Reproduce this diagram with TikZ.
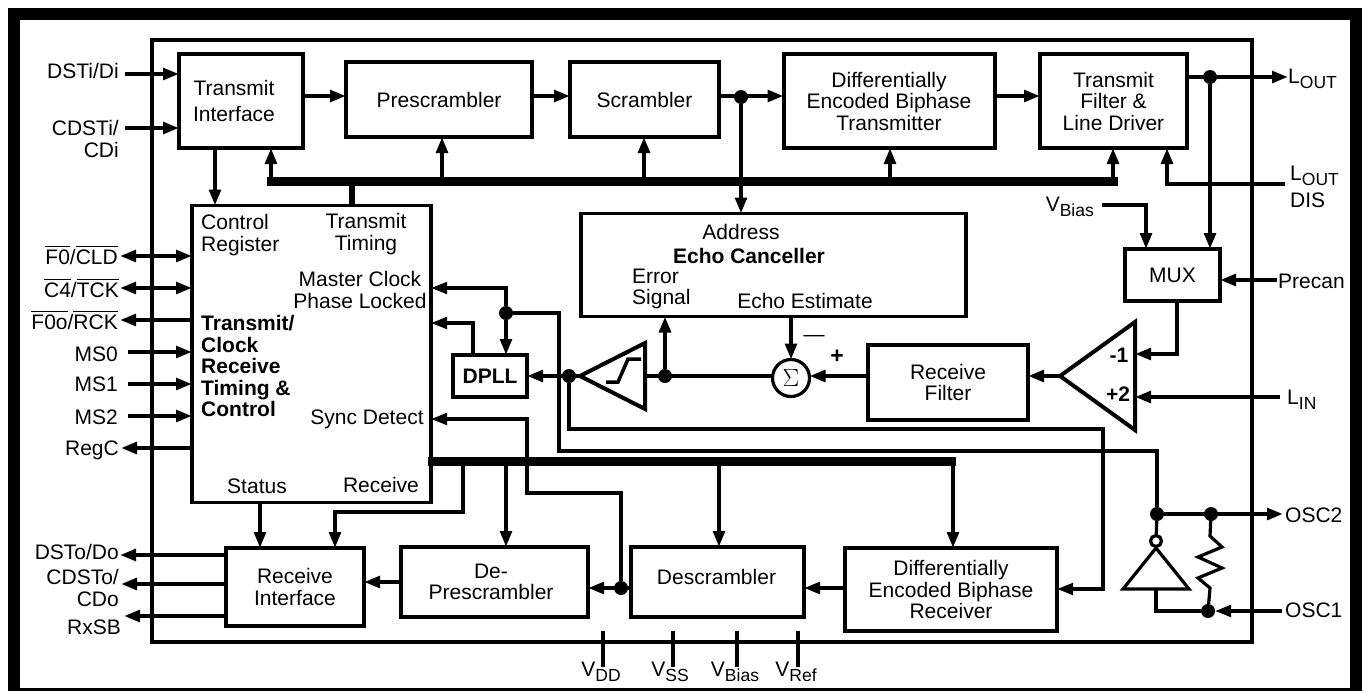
\documentclass[tikz,border=0pt]{standalone}
\usepackage{fontspec}
\usepackage{amsmath}
\setmainfont{Liberation Sans}
\usetikzlibrary{arrows.meta}

\newcommand{\blockfont}{\fontsize{21}{21.5}\selectfont}
\newcommand{\sigsub}[1]{\lower5pt\hbox{\fontsize{17.5}{17.5}\selectfont #1}}
\newcommand{\barsig}[1]{$\overline{\mbox{#1}}$}

\tikzset{
    blockbox/.style={draw, line width=4pt, inner sep=0pt, outer sep=0pt, align=center},
    tag/.style={inner sep=0pt, align=center},
    tagl/.style={inner sep=0pt, anchor=west, align=left},
    tagr/.style={inner sep=0pt, anchor=east, align=right},
    dot/.style={circle, fill=black, inner sep=0pt, outer sep=0pt, minimum size=14pt},
    sig/.style={line width=4pt, -{Triangle[length=16pt,width=11.5pt]}},
    sigboth/.style={line width=4pt, {Triangle[length=16pt,width=11.5pt]}-{Triangle[length=16pt,width=11.5pt]}},
    wire/.style={line width=3.2pt, miter limit=4},
    wirearrow/.style={wire, -{Triangle[length=16pt,width=11.5pt]}},
    bus/.style={line width=9pt}
}

\begin{document}
\begin{tikzpicture}[x=1pt, y=-1pt, every node/.style={font=\blockfont}]
        \useasboundingbox (0,0) rectangle (1364,691);

        % Draw frame and chip outline
        \fill[black] (8,8) rectangle (1362,691);
        \fill[white] (20,20) rectangle (1350,688);
        \draw[line width=3.2pt] (152,40) rectangle (1252,642);

        % Draw transmit path blocks
        \node[blockbox, minimum width=124pt, minimum height=94pt] (txif) at (241,101) {};
        \node[tag] (txiftext) at (234,101) {Transmit\\[5pt]Interface};
        \node[blockbox, minimum width=186pt, minimum height=75pt] (presc) at (439,99.5) {Prescrambler};
        \node[blockbox, minimum width=149pt, minimum height=75pt] (scram) at (644.5,99.5) {Scrambler};
        \node[blockbox, minimum width=211pt, minimum height=94pt] (dbtx) at (889,101) {Differentially\\Encoded Biphase\\Transmitter};
        \node[blockbox, minimum width=147pt, minimum height=94pt] (txfilt) at (1113.5,101) {Transmit\\Filter \&\\Line Driver};

        % Draw timing block
        \node[blockbox, line width=3.2pt, minimum width=239pt, minimum height=297pt] (timing) at (311.5,354) {};
        \node[tagl] (ctrlreg) at (201,235) {Control\\Register};
        \node[tag] (txtiming) at (366,234) {Transmit\\Timing};
        \node[tag] (mclock) at (360,290) {Master Clock\\Phase Locked};
        \node[tagl, font=\blockfont\bfseries] (timingname) at (201,366) {Transmit/\\Clock\\Receive\\Timing \&\\Control};
        \node[tag] (syncdet) at (367,419) {Sync Detect};
        \node[tag] (status) at (257,486) {Status};
        \node[tag] (rxtiming) at (381,485) {Receive};

        % Draw echo path blocks
        \node[blockbox, line width=3.5pt, minimum width=385pt, minimum height=103pt] (echo) at (773.5,265) {};
        \node[tag] (echoaddr) at (741,232) {Address};
        \node[tag, font=\blockfont\bfseries] (echoname) at (749,256) {Echo Canceller};
        \node[tagl] (echoerr) at (632,289) {Error\\Signal};
        \node[tag] (echoest) at (805,301) {Echo Estimate};
        \node[blockbox, minimum width=95pt, minimum height=52pt] (mux) at (1172.5,275) {MUX};
        \node[blockbox, minimum width=160pt, minimum height=75pt] (rxfilt) at (948,382.5) {Receive\\Filter};
        \node[blockbox, minimum width=74pt, minimum height=42pt, font=\blockfont\bfseries] (dpll) at (490,376) {DPLL};
        \node[circle, draw, line width=3.2pt, inner sep=0pt, outer sep=0pt, minimum size=37pt, font=\fontsize{29}{29}\selectfont] (sum) at (791,378) {$\Sigma$};
        \node[tag] (minus) at (814,338) {---};
        \node[tag, font=\fontsize{23}{23}\selectfont\bfseries] (plus) at (837,357) {+};

        % Draw receive path blocks
        \node[blockbox, minimum width=138pt, minimum height=78pt] (rxif) at (295,587) {Receive\\Interface};
        \node[blockbox, minimum width=187pt, minimum height=70pt] (deprescr) at (494.5,582) {};
        \node[tag] (deprescrtext) at (491,582) {De-\\Prescrambler};
        \node[blockbox, minimum width=173pt, minimum height=70pt] (descr) at (717.5,582) {};
        \node[tag] (descrtext) at (716.5,577) {Descrambler};
        \node[blockbox, minimum width=212pt, minimum height=83pt] (dbrx) at (951,589.5) {Differentially\\Encoded Biphase\\Receiver};

        % Draw pin labels on the left
        \node[tagr] (dstilabel) at (119,71) {DSTi/Di};
        \node[tagr] (cdstilabel) at (119,139) {CDSTi/\\CDi};
        \node[tagr] (f0label) at (118,255) {\barsig{F0}/\barsig{CLD}};
        \node[tagr] (c4label) at (119,288) {\barsig{C4}/\barsig{TCK}};
        \node[tagr] (f0olabel) at (118,320) {\barsig{F0o}/\barsig{RCK}};
        \node[tagr] (ms0label) at (118,354) {MS0};
        \node[tagr] (ms1label) at (118,384) {MS1};
        \node[tagr] (ms2label) at (118,417) {MS2};
        \node[tagr] (regclabel) at (119,450) {RegC};
        \node[tagr] (dstolabel) at (119,552) {DSTo/Do};
        \node[tagr] (cdstolabel) at (119,588) {CDSTo/\\CDo};
        \node[tagr] (rxsblabel) at (121,627) {RxSB};

        % Draw pin labels on the right
        \node[tagl] (loutlabel) at (1288,79) {L\sigsub{OUT}};
        \node[tagl] (disablelabel) at (1290,187) {L\sigsub{OUT}\\[5pt]DIS};
        \node[tagr] (vbiaslabel) at (1094,207) {V\sigsub{Bias}};
        \node[tagl] (precanlabel) at (1278,281) {Precan};
        \node[tagl] (linlabel) at (1287,400) {L\sigsub{IN}};
        \node[tagl] (osc2label) at (1285,515) {OSC2};
        \node[tagl] (osc1label) at (1285,610) {OSC1};

        % Draw supply labels
        \node[tag] (vddlabel) at (601,672) {V\sigsub{DD}};
        \node[tag] (vsslabel) at (670,672) {V\sigsub{SS}};
        \node[tag] (vbiasb) at (735,672) {V\sigsub{Bias}};
        \node[tag] (vreflabel) at (796,672) {V\sigsub{Ref}};

        % Draw junctions
        \node[dot] (scramdot) at (741,97) {};
        \node[dot] (loutdot) at (1210,77) {};
        \node[dot] (clockdot) at (506,313) {};
        \node[dot] (dplldot) at (569,376) {};
        \node[dot] (errdot) at (665,376) {};
        \node[dot] (descrdot) at (621,588) {};
        \node[dot] (oscdot) at (1157,514) {};
        \node[dot] (resdot) at (1211,514) {};
        \node[dot] (osc1dot) at (1208,611) {};

        % Draw free ends and bends
        \coordinate (dsti) at (125,74);
        \coordinate (cdsti) at (125,128);
        \coordinate (f0) at (120,256);
        \coordinate (c4) at (120,288);
        \coordinate (f0o) at (120,320);
        \coordinate (ms0) at (128,352);
        \coordinate (ms1) at (128,384);
        \coordinate (ms2) at (128,416);
        \coordinate (regc) at (121,448);
        \coordinate (dsto) at (120,555);
        \coordinate (cdsto) at (121,584);
        \coordinate (rxsb) at (124,616);
        \coordinate (txlink) at (241,96);
        \coordinate (toplink) at (600,96);
        \coordinate (filtlink) at (1020,96);
        \coordinate (lout) at (1288,77);
        \coordinate (disable) at (1285,183.5);
        \coordinate (disturn) at (1167,183.5);
        \coordinate (vbias) at (1102,205);
        \coordinate (vbiasturn) at (1146,205);
        \coordinate (precan) at (1277,280);
        \coordinate (muxturn) at (1177,354);
        \coordinate (lin) at (1280,397);
        \coordinate (ampapex) at (1060,376);
        \coordinate (amptop) at (1135,322);
        \coordinate (ampbot) at (1135,430);
        \coordinate (limapex) at (580,376);
        \coordinate (limtop) at (645,343);
        \coordinate (limbot) at (645,409);
        \coordinate (clocktop) at (506,288);
        \coordinate (dplltop) at (473,323);
        \coordinate (clockturn) at (559,313);
        \coordinate (clocklow) at (559,451);
        \coordinate (osclow) at (1157,451);
        \coordinate (dpllturn) at (569,429);
        \coordinate (rxturn) at (1103,429);
        \coordinate (rxturnb) at (1103,589);
        \coordinate (syncb) at (527,493);
        \coordinate (syncc) at (527,419);
        \coordinate (osc2) at (1283,514);
        \coordinate (osc1) at (1282,611);
        \coordinate (invapex) at (1156,548);
        \coordinate (invleft) at (1123,589);
        \coordinate (invright) at (1189,589);
        \coordinate (invturn) at (1156,611);
        \coordinate (rxifin) at (335,512);

        % Draw buses
        \coordinate (txbusl) at (267,181.5);
        \coordinate (txbusr) at (1118,181.5);
        \coordinate (txbusa) at (271,181.5);
        \coordinate (txbusb) at (352,181.5);
        \coordinate (txbusc) at (442,181.5);
        \coordinate (txbusd) at (644,181.5);
        \coordinate (txbuse) at (890,181.5);
        \coordinate (txbusf) at (1113,181.5);
        \coordinate (rxbusl) at (428,461.5);
        \coordinate (rxbusr) at (956,461.5);
        \coordinate (rxbusa) at (463,461.5);
        \coordinate (rxbusb) at (506,461.5);
        \coordinate (rxbusc) at (719,461.5);
        \coordinate (rxbusd) at (953,461.5);
        \draw[bus] (txbusl) -- (txbusr);
        \draw[bus] (rxbusl) -- (rxbusr);
        \draw[line width=6pt] (txbusb) -- (txbusb |- timing.north);
        \draw[sig] (txbusa) -- (txbusa |- txif.south);
        \draw[sig] (txbusc) -- (txbusc |- presc.south);
        \draw[sig] (txbusd) -- (txbusd |- scram.south);
        \draw[sig] (txbuse) -- (txbuse |- dbtx.south);
        \draw[sig] (txbusf) -- (txbusf |- txfilt.south);
        \draw[sig] (rxbusa) |- (rxifin) -- (rxifin |- rxif.north);
        \draw[sig] (rxbusb) -- (rxbusb |- deprescr.north);
        \draw[sig] (rxbusc) -- (rxbusc |- descr.north);
        \draw[sig] (rxbusd) -- (rxbusd |- dbrx.north);

        % Draw pin connections on the left
        \draw[sig] (dsti) -- (dsti -| txif.west);
        \draw[sig] (cdsti) -- (cdsti -| txif.west);
        \draw[sigboth] (f0) -- (f0 -| timing.west);
        \draw[sigboth] (c4) -- (c4 -| timing.west);
        \draw[sig] (f0o -| timing.west) -- (f0o);
        \draw[sig] (ms0) -- (ms0 -| timing.west);
        \draw[sig] (ms1) -- (ms1 -| timing.west);
        \draw[sig] (ms2) -- (ms2 -| timing.west);
        \draw[sig] (regc -| timing.west) -- (regc);
        \draw[sig] (dsto -| rxif.west) -- (dsto);
        \draw[sig] (cdsto -| rxif.west) -- (cdsto);
        \draw[sig] (rxsb -| rxif.west) -- (rxsb);

        % Draw transmit connections
        \draw[sig] (txlink -| txif.east) -- (txlink -| presc.west);
        \draw[sig] (toplink -| presc.east) -- (toplink -| scram.west);
        \draw[sig] (toplink -| scram.east) -- (toplink -| dbtx.west);
        \draw[sig] (filtlink -| dbtx.east) -- (filtlink -| txfilt.west);
        \draw[sig] (scramdot) -- (scramdot |- echo.north);
        \draw[sig] (lout -| txfilt.east) -- (lout);
        \draw[sig] (loutdot) -- (loutdot |- mux.north);
        \draw[sig] (disable) -- (disturn) -- (disturn |- txfilt.south);
        \draw[sig] (vbias) -- (vbiasturn) -- (vbiasturn |- mux.north);
        \draw[sig] (precan) -- (precan -| mux.east);
        \draw[sig] (txif.south -| 215,0) -- (timing.north -| 215,0);

        % Draw receive filter and echo connections
        \draw[line width=4pt, line join=miter] (ampapex) -- (amptop) -- (ampbot) -- cycle;
        \node[tag, font=\blockfont\bfseries] (ampminus) at (1119,355) {-1};
        \node[tag, font=\blockfont\bfseries] (ampplus) at (1118,394) {+2};
        \draw[sig] (mux.south -| muxturn) -- (muxturn) -- (muxturn -| amptop);
        \draw[sig] (lin) -- (lin -| amptop);
        \draw[sig] (ampapex) -- (ampapex -| rxfilt.east);
        \draw[sig] (rxfilt.west |- ampapex) -- (sum.east |- ampapex);
        \draw[sig] (sum.north |- echo.south) -- (sum.north);
        \draw[wire] (sum.west |- ampapex) -- (limtop |- ampapex);
        \draw[sig] (errdot) -- (errdot |- echo.south);
        \draw[line width=4pt, line join=miter] (limapex) -- (limtop) -- (limbot) -- cycle;
        \draw[line width=3.5pt] (606,382) -- (618,382) -- (628,359) -- (641,359);
        \draw[sig] (limapex) -- (limapex -| dpll.east);

        % Draw clock and feedback connections
        \draw[sig] (clockdot) -- (clockdot |- dpll.north);
        \draw[wirearrow] (clockdot) -- (clocktop) -- (clocktop -| timing.east);
        \draw[wirearrow] (dplltop |- dpll.north) -- (dplltop) -- (dplltop -| timing.east);
        \draw[wire] (clockdot) -- (clockturn) -- (clocklow) -- (osclow) -- (oscdot);
        \draw[wirearrow] (dplldot) -- (dpllturn) -- (rxturn) -- (rxturnb) -- (rxturnb -| dbrx.east);
        \draw[wirearrow] (descrdot) |- (syncb) -- (syncc) -- (syncc -| timing.east);

        % Draw receive connections
        \draw[sig] (timing.south -| 260,0) -- (rxif.north -| 260,0);
        \draw[sig] (deprescr.west) -- (rxif.east |- deprescr.west);
        \draw[sig] (descr.west |- descrdot) -- (deprescr.east |- descrdot);
        \draw[sig] (dbrx.west |- descrdot) -- (descr.east |- descrdot);

        % Draw oscillator
        \draw[line width=3.2pt, line join=miter] (invapex) -- (invleft) -- (invright) -- cycle;
        \node[circle, draw, fill=white, line width=3.2pt, inner sep=0pt, outer sep=0pt, minimum size=11pt] (bubble) at (1156,541) {};
        \draw[wire] (oscdot) -- (bubble);
        \draw[wire] (invapex |- invleft) -- (invturn) -- (osc1dot);
        \draw[sig] (oscdot) -- (osc2);
        \draw[wirearrow] (osc1) -- (osc1dot);
        \draw[wire, line join=miter] (resdot) -- (1210,536) -- (1222,547) -- (1198,557) -- (1222,568) -- (1198,578) -- (1210,588) -- (osc1dot);

        % Draw supply pins
        \draw[wire] (603,631) -- (603,667);
        \draw[wire] (673,631) -- (673,667);
        \draw[wire] (737,631) -- (737,667);
        \draw[wire] (798,631) -- (798,667);
\end{tikzpicture}
\end{document}
